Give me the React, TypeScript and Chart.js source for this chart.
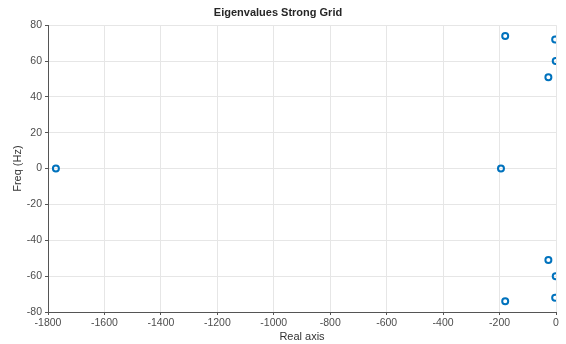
import React, { useEffect, useRef } from "react";
import { Chart, registerables } from "chart.js";

Chart.register(...registerables);

const realParts = [-1772, -180, -3, -1, -27, -195, -27, -1, -3, -180];
const freqs = [0, 74, 72, 60, 51, 0, -51, -60, -72, -74];
const xTickValues = [-1800, -1600, -1400, -1200, -1000, -800, -600, -400, -200, 0];
const yTickValues = [-80, -60, -40, -20, 0, 20, 40, 60, 80];

export default function App() {
  const ref = useRef<HTMLCanvasElement>(null);
  useEffect(() => {
    document.body.style.margin = "0";
    const ctx = ref.current!;
    const font = "'Liberation Sans', Arial, Helvetica, sans-serif";
    const chart = new Chart(ctx, {
      type: "scatter",
      data: {
        datasets: [
          {
            data: realParts.map((x, i) => ({ x, y: freqs[i] })),
            borderColor: "#0072BD",
            backgroundColor: "rgba(0,0,0,0)",
            borderWidth: 2,
            pointRadius: 3,
            pointHoverRadius: 3,
          },
        ],
      },
      options: {
        animation: false,
        responsive: false,
        devicePixelRatio: 1,
        layout: { padding: { left: 0, right: 10, top: 0, bottom: 0 } },
        plugins: {
          legend: { display: false },
          tooltip: { enabled: false },
          title: {
            display: true,
            text: "Eigenvalues Strong Grid",
            color: "#262626",
            font: { family: font, size: 11, weight: "bold" },
            padding: { top: 6, bottom: 6 },
          },
        },
        scales: {
          x: {
            type: "linear",
            min: -1800,
            max: 0,
            afterBuildTicks: (s: any) => {
              s.ticks = xTickValues.map((v) => ({ value: v }));
            },
            afterFit: (s: any) => {
              s.height = 32;
            },
            ticks: {
              color: "#4d4d4d",
              font: { family: font, size: 10.5 },
              padding: 2,
              maxRotation: 0,
              callback: (v: any) => String(v),
            },
            grid: { color: "#e6e6e6", tickLength: 3, tickColor: "#555" },
            border: { color: "#555", width: 1 },
            title: {
              display: true,
              text: "Real axis",
              color: "#333",
              font: { family: font, size: 11 },
              padding: { top: 0, bottom: 0 },
            },
          },
          y: {
            type: "linear",
            min: -80,
            max: 80,
            afterBuildTicks: (s: any) => {
              s.ticks = yTickValues.map((v) => ({ value: v }));
            },
            afterFit: (s: any) => {
              s.width = 48;
            },
            ticks: {
              color: "#4d4d4d",
              font: { family: font, size: 10.5 },
              padding: 3,
              callback: (v: any) => String(v),
            },
            grid: { color: "#e6e6e6", tickLength: 3, tickColor: "#555" },
            border: { color: "#555", width: 1 },
            title: {
              display: true,
              text: "Freq (Hz)",
              color: "#333",
              font: { family: font, size: 11 },
              padding: { top: 11, bottom: 0 },
            },
          },
        },
      },
    });
    return () => chart.destroy();
  }, []);
  return <canvas ref={ref} width={566} height={344} style={{ display: "block" }} />;
}
